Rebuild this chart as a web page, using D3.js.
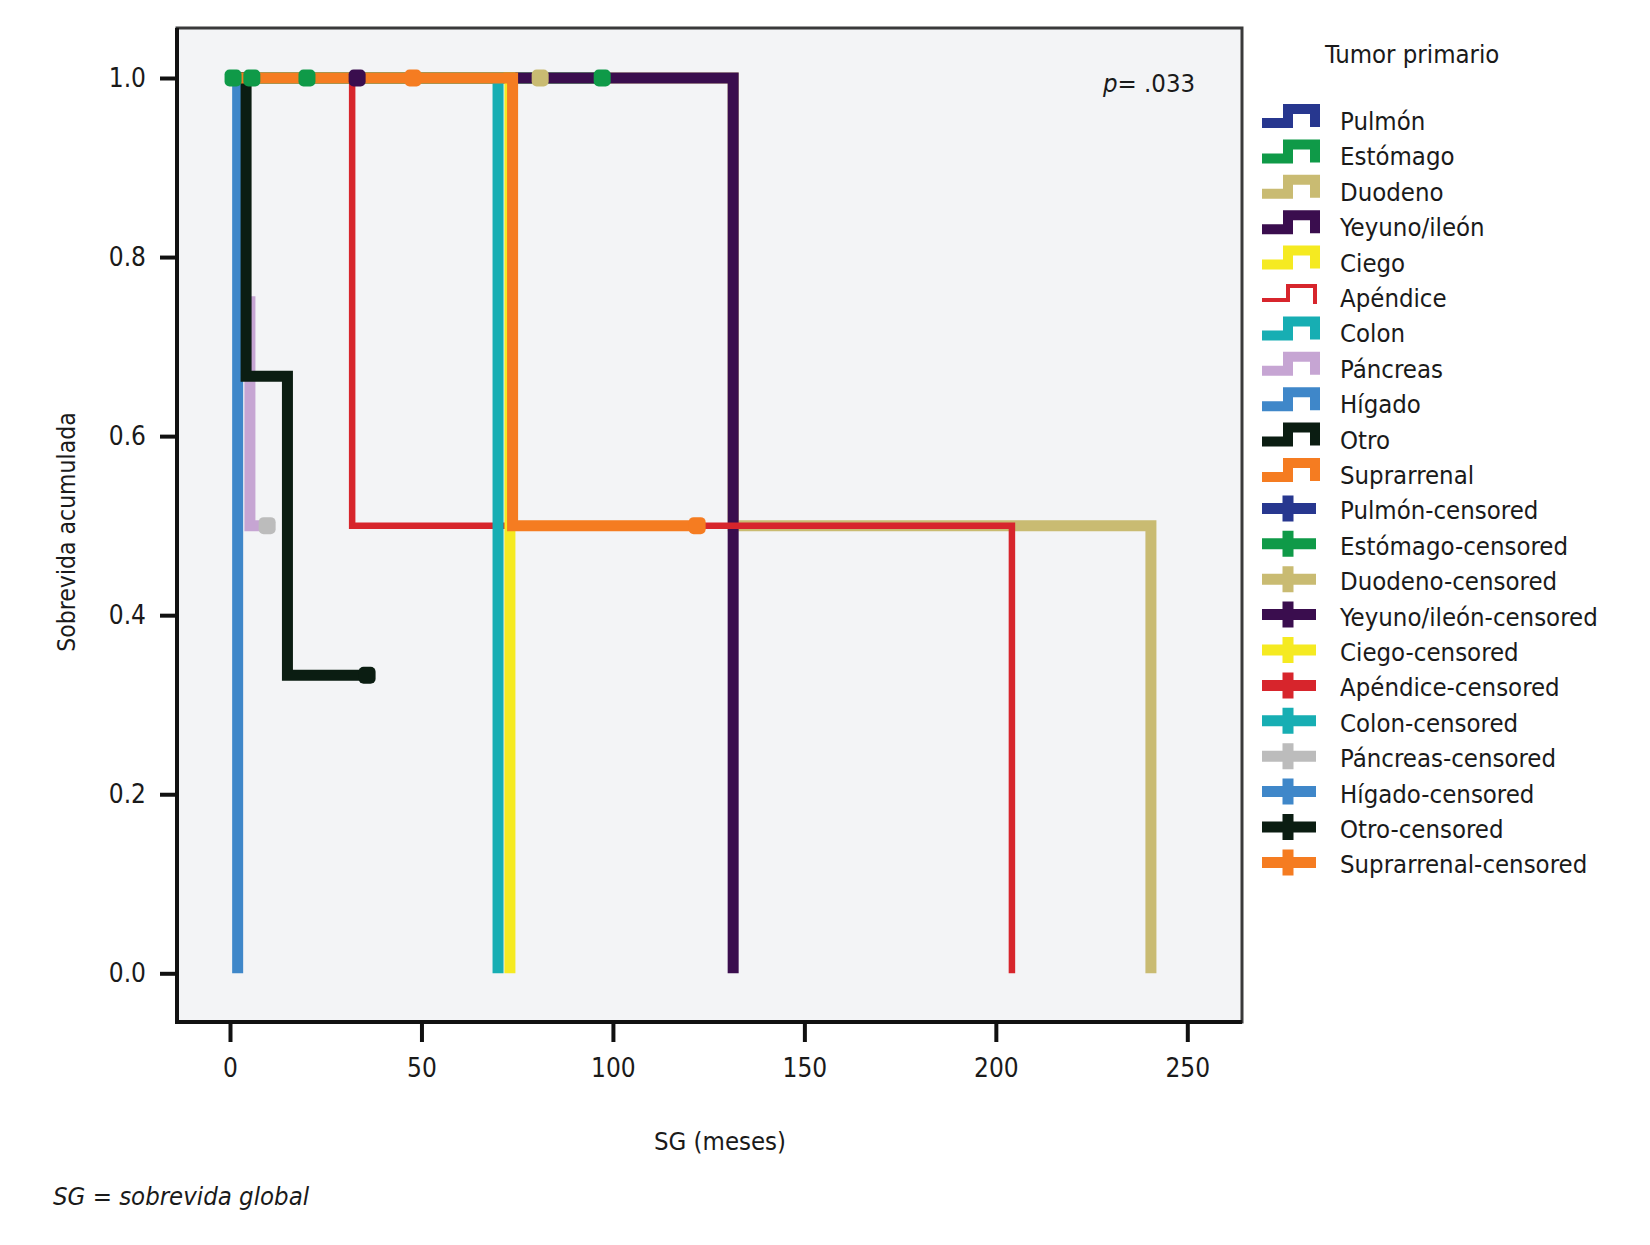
<!DOCTYPE html>
<html lang="es">
<head>
    <meta charset="UTF-8">
    <title>Sobrevida acumulada por tumor primario</title>
    <script src="https://d3js.org/d3.v7.min.js"></script>
    <style>
        body {
            margin: 0;
            background: #ffffff;
        }
        svg text {
            font-family: "DejaVu Sans Condensed", "Liberation Sans", sans-serif;
            font-stretch: condensed;
            fill: #1a1a1a;
        }
    </style>
</head>
<body>
    <div id="chart"></div>

    <script>
        // Datos (meses, sobrevida)
        const groups = ["Pulmón", "Estómago", "Duodeno", "Yeyuno/ileón", "Ciego", "Apéndice",
            "Colon", "Páncreas", "Hígado", "Otro", "Suprarrenal"];
        const lineColors = ["#27378f", "#0f9a48", "#c9bb72", "#3a0d4e", "#f5ea21", "#d7252c",
            "#17aeb3", "#c6a5d3", "#3f87c9", "#0b1d12", "#f57c21"];
        const censorColors = ["#27378f", "#0f9a48", "#c9bb72", "#3a0d4e", "#f5ea21", "#d7252c",
            "#17aeb3", "#bcbcbc", "#3f87c9", "#0b1d12", "#f57c21"];
        const eventTimes = [[], [], [131.4, 240.5], [131.4], [73.1], [31.9, 204.2], [70], [3.0, 5.2], [2.0], [4.2, 15.0], [73.8]];
        const eventSurv = [[], [], [0.5, 0], [0], [0], [0.5, 0], [0], [0.75, 0.5], [0], [0.667, 0.333], [0.5]];
        const censorTimes = [[], [0.8, 5.7, 20.1, 97.2], [81], [33.2], [], [], [], [9.7], [], [35.8], [47.8, 122]];
        const censorSurv = [[], [1, 1, 1, 1], [1], [1], [], [], [], [0.5], [], [0.333], [1, 0.5]];
        const drawOrder = [2, 1, 0, 7, 8, 3, 5, 4, 6, 9, 10];
        const xTicks = [0, 50, 100, 150, 200, 250];
        const yTicks = [0, 0.2, 0.4, 0.6, 0.8, 1.0];

        const W = 1650, H = 1245;
        const frame = { left: 177, right: 1242, top: 28, bottom: 1022 };

        const svg = d3.select("#chart").append("svg")
            .attr("width", W)
            .attr("height", H);

        const x = d3.scaleLinear().domain([0, 250]).range([230, 1187.3]);
        const y = d3.scaleLinear().domain([0, 1]).range([973.3, 78]);

        // fondo del área de trazado
        svg.append("rect")
            .attr("x", frame.left).attr("y", frame.top)
            .attr("width", frame.right - frame.left)
            .attr("height", frame.bottom - frame.top)
            .attr("fill", "#f3f4f6");

        // curvas Kaplan-Meier
        const line = d3.line()
            .x(d => x(d[0]))
            .y(d => y(d[1]))
            .curve(d3.curveStepAfter);

        drawOrder.forEach(i => {
            const times = eventTimes[i], surv = eventSurv[i];
            const end = d3.max([...times, ...censorTimes[i]]);
            if (end === undefined) return;
            const pts = [[0, 1]];
            times.forEach((t, k) => pts.push([t, surv[k]]));
            const last = surv.length ? surv[surv.length - 1] : 1;
            pts.push([end, last]);
            svg.append("path")
                .attr("d", line(pts))
                .attr("fill", "none")
                .attr("stroke", lineColors[i])
                .attr("stroke-width", groups[i] === "Apéndice" ? 6.5 : 11)
                .attr("stroke-linejoin", "miter")
                .attr("stroke-linecap", "butt");
        });

        // marcas de censura
        drawOrder.forEach(i => {
            svg.selectAll(null)
                .data(censorTimes[i].map((t, k) => [t, censorSurv[i][k]]))
                .enter()
                .append("rect")
                .attr("x", d => x(d[0]) - 8.5)
                .attr("y", d => y(d[1]) - 8.5)
                .attr("width", 17)
                .attr("height", 17)
                .attr("rx", 5)
                .attr("fill", censorColors[i]);
        });

        // marco
        svg.append("rect")
            .attr("x", frame.left).attr("y", frame.top)
            .attr("width", frame.right - frame.left)
            .attr("height", frame.bottom - frame.top)
            .attr("fill", "none")
            .attr("stroke", "#3a3a3a")
            .attr("stroke-width", 3);
        svg.append("path")
            .attr("d", `M${frame.left},${frame.top} V${frame.bottom} H${frame.right}`)
            .attr("fill", "none")
            .attr("stroke", "#111")
            .attr("stroke-width", 4);

        // ejes
        const yAxis = svg.append("g")
            .attr("transform", `translate(${frame.left},0)`)
            .call(d3.axisLeft(y).tickValues(yTicks).tickFormat(d3.format(".1f"))
                .tickSizeInner(17).tickSizeOuter(0).tickPadding(14));
        const xAxis = svg.append("g")
            .attr("transform", `translate(0,${frame.bottom})`)
            .call(d3.axisBottom(x).tickValues(xTicks)
                .tickSizeInner(20).tickSizeOuter(0).tickPadding(17));
        [yAxis, xAxis].forEach(g => {
            g.select(".domain").remove();
            g.selectAll(".tick line").attr("stroke", "#111").attr("stroke-width", 4);
            g.selectAll(".tick text")
                .style("font-size", "26px")
                .attr("fill", "#1a1a1a");
        });

        svg.append("text")
            .attr("x", 720).attr("y", 1150)
            .attr("text-anchor", "middle")
            .style("font-size", "25.5px")
            .text("SG (meses)");

        svg.append("text")
            .attr("transform", "translate(75,532) rotate(-90)")
            .attr("text-anchor", "middle")
            .style("font-size", "24.5px")
            .text("Sobrevida acumulada");

        svg.append("text")
            .attr("x", 53).attr("y", 1205)
            .style("font-size", "25.5px")
            .style("font-style", "italic")
            .text("SG = sobrevida global");

        const pText = svg.append("text")
            .attr("x", 1103).attr("y", 92)
            .style("font-size", "25.5px");
        pText.append("tspan").style("font-style", "italic").text("p");
        pText.append("tspan").text("= .033");

        // leyenda
        svg.append("text")
            .attr("x", 1325).attr("y", 63)
            .style("font-size", "25.5px")
            .text("Tumor primario");

        const legendItems = groups.map((g, i) => ({ label: g, color: lineColors[i], censored: false }))
            .concat(groups.map((g, i) => ({ label: g + "-censored", color: censorColors[i], censored: true })));

        const legend = svg.append("g");
        legendItems.forEach((d, i) => {
            const b = 130 + i * 35.4;
            if (d.censored) {
                legend.append("path")
                    .attr("d", `M1262,${b - 11} H1316 M1288,${b - 24} V${b + 2}`)
                    .attr("stroke", d.color)
                    .attr("stroke-width", 11)
                    .attr("fill", "none");
            } else {
                legend.append("path")
                    .attr("d", `M1262,${b - 7} H1288 V${b - 21} H1315 V${b - 3}`)
                    .attr("stroke", d.color)
                    .attr("stroke-width", d.label === "Apéndice" ? 4 : 10)
                    .attr("stroke-linejoin", "miter")
                    .attr("fill", "none");
            }
            legend.append("text")
                .attr("x", 1340).attr("y", b)
                .style("font-size", "25.5px")
                .text(d.label);
        });
    </script>
</body>
</html>
